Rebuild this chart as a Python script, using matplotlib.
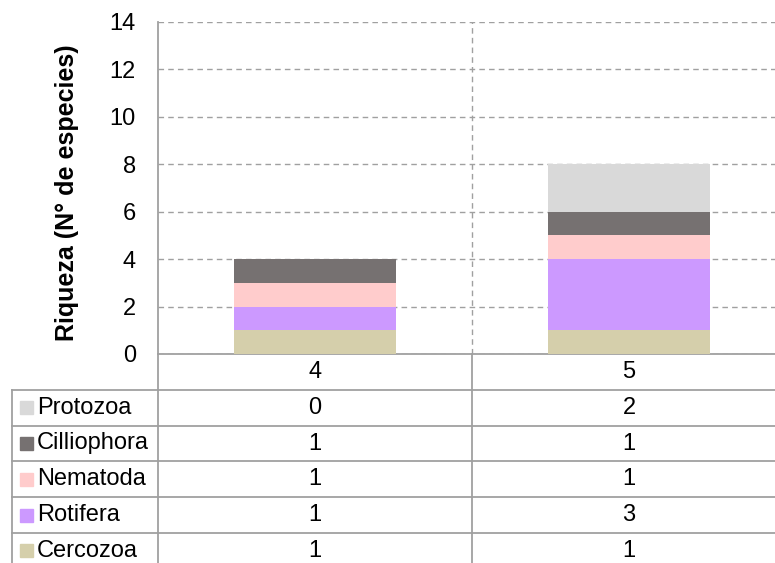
import matplotlib
matplotlib.use("Agg")
import matplotlib.pyplot as plt
from matplotlib import transforms

plt.rcParams['font.family'] = ['Liberation Sans', 'DejaVu Sans']

categorias = ["4", "5"]
grupos = ["Cercozoa", "Rotifera", "Nematoda", "Cilliophora", "Protozoa"]
cercozoa = [1, 1]
rotifera = [1, 3]
nematoda = [1, 1]
cilliophora = [1, 1]
protozoa = [0, 2]
valores = [cercozoa, rotifera, nematoda, cilliophora, protozoa]
colores = ["#d5cfab", "#cc99ff", "#ffcccc", "#767171", "#d9d9d9"]

W, H = 775, 563
fs = 17
fig = plt.figure(figsize=(W / 100, H / 100), dpi=100)
# plot area in pixels: x 158..786, y 22..354
ax = fig.add_axes([158 / W, (H - 354) / H, (786 - 158) / W, (354 - 22) / H])

gris = "#a0a0a0"
x = range(len(categorias))
base = [0] * len(categorias)
for nombre, vals, c in zip(grupos, valores, colores):
    ax.bar(x, vals, 0.513, bottom=base, color=c, zorder=3)
    base = [b + v for b, v in zip(base, vals)]

ax.set_xlim(-0.5, 1.5)
ax.set_ylim(0, 14)
ax.set_yticks(range(0, 15, 2))
ax.set_xticks([0.5], minor=True)
ax.set_xticks([])
ax.grid(axis="y", which="major", color=gris, linestyle=(0, (4, 3)), linewidth=1, zorder=0)
ax.grid(axis="x", which="minor", color=gris, linestyle=(0, (4, 3)), linewidth=1, zorder=0)
ax.tick_params(axis="y", length=0, pad=16, labelsize=fs)
ax.tick_params(axis="x", which="both", length=0)
for s in ["top", "right"]:
    ax.spines[s].set_visible(False)
for s in ["left", "bottom"]:
    ax.spines[s].set_color(gris)
    ax.spines[s].set_linewidth(1.3)

fy = lambda p: (H - p) / H
fx = lambda p: p / W
fig.text(fx(67), fy(193), "Riqueza (N° de especies)", rotation=90, ha="center", va="center",
         fontsize=18, fontweight="bold")

# data table below the axis
tr = transforms.blended_transform_factory(ax.transData, fig.transFigure)
top, alto = 354, 35.8
filas = grupos[::-1]
vals_filas = valores[::-1]
cols_filas = colores[::-1]

for i, cat in enumerate(categorias):
    fig.text(i, fy(top + alto / 2), cat, transform=tr, ha="center", va="center", fontsize=fs)

n = len(filas)
for k in range(n + 1):
    y = fy(top + alto * (k + 1))
    fig.add_artist(plt.Line2D([fx(12), 1], [y, y], color=gris, lw=1.3))
fig.add_artist(plt.Line2D([fx(12), fx(12)], [fy(top + alto), 0], color=gris, lw=1.3))
fig.add_artist(plt.Line2D([fx(158), fx(158)], [fy(top), 0], color=gris, lw=1.3))
fig.add_artist(plt.Line2D([0.5, 0.5], [fy(top), 0], color=gris, lw=1.3, transform=tr))

for k, (nombre, vals, c) in enumerate(zip(filas, vals_filas, cols_filas)):
    yc = fy(top + alto * (k + 1.5))
    fig.add_artist(plt.Rectangle((fx(20), yc - 6.5 / H), 13 / W, 13 / H, color=c))
    fig.text(fx(37), yc, nombre, ha="left", va="center", fontsize=fs)
    for i, v in enumerate(vals):
        fig.text(i, yc, str(v), transform=tr, ha="center", va="center", fontsize=fs)

fig.savefig("out.png", dpi=100)
